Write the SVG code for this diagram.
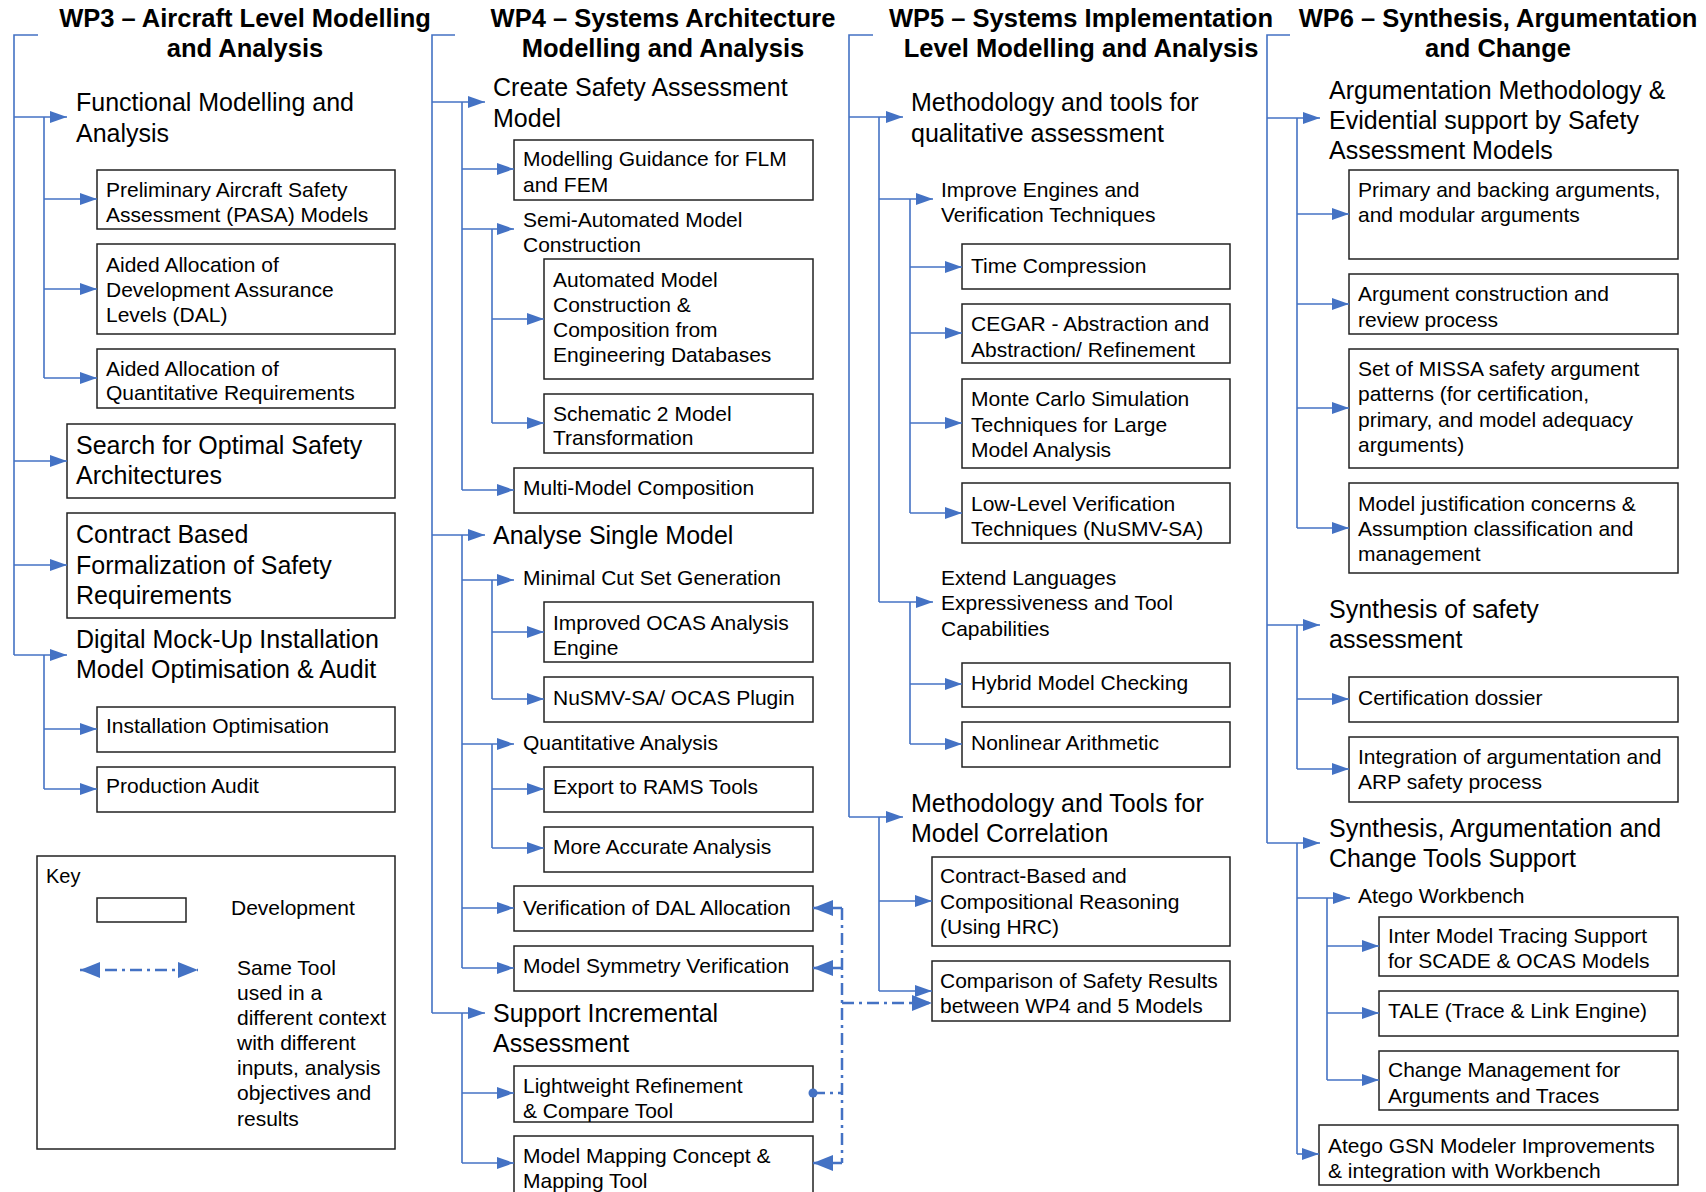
<svg xmlns="http://www.w3.org/2000/svg" width="1706" height="1192" viewBox="0 0 1706 1192">
<style>
text{font-family:"Liberation Sans",Arial,sans-serif;fill:#000}
.ti{font-size:25.5px;font-weight:bold;text-anchor:middle}
.h{font-size:25px}
.s{font-size:21px}
.box{fill:#fff;stroke:#222;stroke-width:1.5}
.ln{fill:none;stroke:#4472C4;stroke-width:1.6}
.ar{fill:none;stroke:#4472C4;stroke-width:1.6;marker-end:url(#a)}
.dd{fill:none;stroke:#4472C4;stroke-width:2.5;stroke-dasharray:12,5,3,5}
.dda{fill:none;stroke:#4472C4;stroke-width:2.5;stroke-dasharray:12,5,3,5;marker-end:url(#b)}
</style>
<defs>
<marker id="a" viewBox="0 0 17 12" markerWidth="17" markerHeight="12" refX="17" refY="6" orient="auto" markerUnits="userSpaceOnUse"><path d="M0,0L17,6L0,12z" fill="#4472C4"/></marker>
<marker id="b" viewBox="0 0 20 16" markerWidth="20" markerHeight="16" refX="20" refY="8" orient="auto-start-reverse" markerUnits="userSpaceOnUse"><path d="M0,0L20,8L0,16z" fill="#4472C4"/></marker>
</defs>
<rect width="1706" height="1192" fill="#fff"/>

<g id="titles">
<text class="ti" x="245" y="27">WP3 – Aircraft Level Modelling</text>
<text class="ti" x="245" y="57">and Analysis</text>
<text class="ti" x="663" y="27">WP4 – Systems Architecture</text>
<text class="ti" x="663" y="57">Modelling and Analysis</text>
<text class="ti" x="1081" y="27">WP5 – Systems Implementation</text>
<text class="ti" x="1081" y="57">Level Modelling and Analysis</text>
<text class="ti" x="1498" y="27">WP6 – Synthesis, Argumentation</text>
<text class="ti" x="1498" y="57">and Change</text>
</g>

<!-- WP3 nodes -->
<g id="wp3-fma"><text class="h" x="76" y="111">Functional Modelling and</text><text class="h" x="76" y="142">Analysis</text></g>
<g id="wp3-pasa"><rect class="box" x="97" y="170" width="298" height="59"/><text class="s" x="106" y="197">Preliminary Aircraft Safety</text><text class="s" x="106" y="222">Assessment (PASA) Models</text></g>
<g id="wp3-dal"><rect class="box" x="97" y="244" width="298" height="90"/><text class="s" x="106" y="272">Aided Allocation of</text><text class="s" x="106" y="297">Development Assurance</text><text class="s" x="106" y="322">Levels (DAL)</text></g>
<g id="wp3-qr"><rect class="box" x="97" y="349" width="298" height="59"/><text class="s" x="106" y="376">Aided Allocation of</text><text class="s" x="106" y="400">Quantitative Requirements</text></g>
<g id="wp3-sosa"><rect class="box" x="67" y="424" width="328" height="74"/><text class="h" x="76" y="454">Search for Optimal Safety</text><text class="h" x="76" y="484">Architectures</text></g>
<g id="wp3-cbf"><rect class="box" x="67" y="513" width="328" height="105"/><text class="h" x="76" y="543">Contract Based</text><text class="h" x="76" y="574">Formalization of Safety</text><text class="h" x="76" y="604">Requirements</text></g>
<g id="wp3-dmu"><text class="h" x="76" y="648">Digital Mock-Up Installation</text><text class="h" x="76" y="678">Model Optimisation &amp; Audit</text></g>
<g id="wp3-io"><rect class="box" x="97" y="707" width="298" height="45"/><text class="s" x="106" y="733">Installation Optimisation</text></g>
<g id="wp3-pa"><rect class="box" x="97" y="767" width="298" height="45"/><text class="s" x="106" y="793">Production Audit</text></g>

<g id="key">
<rect class="box" x="37" y="856" width="358" height="293"/>
<text class="s" x="46" y="883" style="font-size:20px">Key</text>
<rect class="box" x="97" y="898" width="89" height="24"/>
<text class="s" x="231" y="915">Development</text>
<path class="dda" d="M80,970H198" style="marker-start:url(#b)"/>
<text class="s" x="237" y="975">Same Tool</text>
<text class="s" x="237" y="1000">used in a</text>
<text class="s" x="237" y="1025">different context</text>
<text class="s" x="237" y="1050">with different</text>
<text class="s" x="237" y="1075">inputs, analysis</text>
<text class="s" x="237" y="1100">objectives and</text>
<text class="s" x="237" y="1126">results</text>
</g>

<!-- WP4 nodes -->
<g id="wp4-csam"><text class="h" x="493" y="96">Create Safety Assessment</text><text class="h" x="493" y="127">Model</text></g>
<g id="wp4-mg"><rect class="box" x="514" y="140" width="299" height="60"/><text class="s" x="523" y="166">Modelling Guidance for FLM</text><text class="s" x="523" y="192">and FEM</text></g>
<g id="wp4-semi"><text class="s" x="523" y="227">Semi-Automated Model</text><text class="s" x="523" y="252">Construction</text></g>
<g id="wp4-amc"><rect class="box" x="544" y="259" width="269" height="120"/><text class="s" x="553" y="287">Automated Model</text><text class="s" x="553" y="312">Construction &amp;</text><text class="s" x="553" y="337">Composition from</text><text class="s" x="553" y="362">Engineering Databases</text></g>
<g id="wp4-s2m"><rect class="box" x="544" y="394" width="269" height="59"/><text class="s" x="553" y="421">Schematic 2 Model</text><text class="s" x="553" y="445">Transformation</text></g>
<g id="wp4-mmc"><rect class="box" x="514" y="468" width="299" height="45"/><text class="s" x="523" y="495">Multi-Model Composition</text></g>
<g id="wp4-asm"><text class="h" x="493" y="544">Analyse Single Model</text></g>
<g id="wp4-mcs"><text class="s" x="523" y="585">Minimal Cut Set Generation</text></g>
<g id="wp4-ocas"><rect class="box" x="544" y="602" width="269" height="60"/><text class="s" x="553" y="630">Improved OCAS Analysis</text><text class="s" x="553" y="655">Engine</text></g>
<g id="wp4-nusmv"><rect class="box" x="544" y="677" width="269" height="45"/><text class="s" x="553" y="705">NuSMV-SA/ OCAS Plugin</text></g>
<g id="wp4-qa"><text class="s" x="523" y="750">Quantitative Analysis</text></g>
<g id="wp4-rams"><rect class="box" x="544" y="767" width="269" height="45"/><text class="s" x="553" y="794">Export to RAMS Tools</text></g>
<g id="wp4-maa"><rect class="box" x="544" y="827" width="269" height="45"/><text class="s" x="553" y="854">More Accurate Analysis</text></g>
<g id="wp4-vdal"><rect class="box" x="514" y="886" width="299" height="45"/><text class="s" x="523" y="915">Verification of DAL Allocation</text></g>
<g id="wp4-msv"><rect class="box" x="514" y="946" width="299" height="45"/><text class="s" x="523" y="973">Model Symmetry Verification</text></g>
<g id="wp4-sia"><text class="h" x="493" y="1022">Support Incremental</text><text class="h" x="493" y="1052">Assessment</text></g>
<g id="wp4-lrc"><rect class="box" x="514" y="1066" width="299" height="56"/><text class="s" x="523" y="1093">Lightweight Refinement</text><text class="s" x="523" y="1118">&amp; Compare Tool</text></g>
<g id="wp4-mmap"><rect class="box" x="514" y="1136" width="299" height="62"/><text class="s" x="523" y="1163">Model Mapping Concept &amp;</text><text class="s" x="523" y="1188">Mapping Tool</text></g>

<!-- WP5 nodes -->
<g id="wp5-mtq"><text class="h" x="911" y="111">Methodology and tools for</text><text class="h" x="911" y="142">qualitative assessment</text></g>
<g id="wp5-iev"><text class="s" x="941" y="197">Improve Engines and</text><text class="s" x="941" y="222">Verification Techniques</text></g>
<g id="wp5-tc"><rect class="box" x="962" y="244" width="268" height="45"/><text class="s" x="971" y="273">Time Compression</text></g>
<g id="wp5-cegar"><rect class="box" x="962" y="304" width="268" height="59"/><text class="s" x="971" y="331">CEGAR - Abstraction and</text><text class="s" x="971" y="357">Abstraction/ Refinement</text></g>
<g id="wp5-mc"><rect class="box" x="962" y="379" width="268" height="89"/><text class="s" x="971" y="406">Monte Carlo Simulation</text><text class="s" x="971" y="432">Techniques for Large</text><text class="s" x="971" y="457">Model Analysis</text></g>
<g id="wp5-llv"><rect class="box" x="962" y="483" width="268" height="60"/><text class="s" x="971" y="511">Low-Level Verification</text><text class="s" x="971" y="536">Techniques (NuSMV-SA)</text></g>
<g id="wp5-ext"><text class="s" x="941" y="585">Extend Languages</text><text class="s" x="941" y="610">Expressiveness and Tool</text><text class="s" x="941" y="636">Capabilities</text></g>
<g id="wp5-hmc"><rect class="box" x="962" y="663" width="268" height="44"/><text class="s" x="971" y="690">Hybrid Model Checking</text></g>
<g id="wp5-nla"><rect class="box" x="962" y="722" width="268" height="45"/><text class="s" x="971" y="750">Nonlinear Arithmetic</text></g>
<g id="wp5-mtmc"><text class="h" x="911" y="812">Methodology and Tools for</text><text class="h" x="911" y="842">Model Correlation</text></g>
<g id="wp5-cbc"><rect class="box" x="932" y="857" width="298" height="89"/><text class="s" x="940" y="883">Contract-Based and</text><text class="s" x="940" y="909">Compositional Reasoning</text><text class="s" x="940" y="934">(Using HRC)</text></g>
<g id="wp5-cmp"><rect class="box" x="932" y="961" width="298" height="60"/><text class="s" x="940" y="988">Comparison of Safety Results</text><text class="s" x="940" y="1013">between WP4 and 5 Models</text></g>

<!-- WP6 nodes -->
<g id="wp6-am"><text class="h" x="1329" y="99">Argumentation Methodology &amp;</text><text class="h" x="1329" y="129">Evidential support by Safety</text><text class="h" x="1329" y="159">Assessment Models</text></g>
<g id="wp6-pb"><rect class="box" x="1349" y="170" width="329" height="89"/><text class="s" x="1358" y="197">Primary and backing arguments,</text><text class="s" x="1358" y="222">and modular arguments</text></g>
<g id="wp6-acr"><rect class="box" x="1349" y="274" width="329" height="60"/><text class="s" x="1358" y="301">Argument construction and</text><text class="s" x="1358" y="327">review process</text></g>
<g id="wp6-missa"><rect class="box" x="1349" y="349" width="329" height="119"/><text class="s" x="1358" y="376">Set of MISSA safety argument</text><text class="s" x="1358" y="401">patterns (for certification,</text><text class="s" x="1358" y="427">primary, and model adequacy</text><text class="s" x="1358" y="452">arguments)</text></g>
<g id="wp6-mj"><rect class="box" x="1349" y="483" width="329" height="90"/><text class="s" x="1358" y="511">Model justification concerns &amp;</text><text class="s" x="1358" y="536">Assumption classification and</text><text class="s" x="1358" y="561">management</text></g>
<g id="wp6-ssa"><text class="h" x="1329" y="618">Synthesis of safety</text><text class="h" x="1329" y="648">assessment</text></g>
<g id="wp6-cd"><rect class="box" x="1349" y="677" width="329" height="45"/><text class="s" x="1358" y="705">Certification dossier</text></g>
<g id="wp6-iarp"><rect class="box" x="1349" y="737" width="329" height="65"/><text class="s" x="1358" y="764">Integration of argumentation and</text><text class="s" x="1358" y="789">ARP safety process</text></g>
<g id="wp6-sacts"><text class="h" x="1329" y="837">Synthesis, Argumentation and</text><text class="h" x="1329" y="867">Change Tools Support</text></g>
<g id="wp6-aw"><text class="s" x="1358" y="903">Atego Workbench</text></g>
<g id="wp6-imt"><rect class="box" x="1379" y="917" width="299" height="59"/><text class="s" x="1388" y="943">Inter Model Tracing Support</text><text class="s" x="1388" y="968">for SCADE &amp; OCAS Models</text></g>
<g id="wp6-tale"><rect class="box" x="1379" y="991" width="299" height="45"/><text class="s" x="1388" y="1018">TALE (Trace &amp; Link Engine)</text></g>
<g id="wp6-cm"><rect class="box" x="1379" y="1051" width="299" height="59"/><text class="s" x="1388" y="1077">Change Management for</text><text class="s" x="1388" y="1103">Arguments and Traces</text></g>
<g id="wp6-gsn"><rect class="box" x="1319" y="1125" width="359" height="60"/><text class="s" x="1328" y="1153">Atego GSN Modeler Improvements</text><text class="s" x="1328" y="1178">&amp; integration with Workbench</text></g>

<g id="connectors">
<!-- WP3 -->
<path class="ln" d="M38,35H14V655"/>
<path class="ar" d="M14,117H67"/><path class="ar" d="M14,461H67"/><path class="ar" d="M14,565H67"/><path class="ar" d="M14,655H67"/>
<path class="ln" d="M44,117V378"/>
<path class="ar" d="M44,199H97"/><path class="ar" d="M44,289H97"/><path class="ar" d="M44,378H97"/>
<path class="ln" d="M44,655V789"/>
<path class="ar" d="M44,729H97"/><path class="ar" d="M44,789H97"/>
<!-- WP4 -->
<path class="ln" d="M455,35H432V1013"/>
<path class="ar" d="M432,102H485"/><path class="ar" d="M432,535H485"/><path class="ar" d="M432,1013H485"/>
<path class="ln" d="M462,102V490"/>
<path class="ar" d="M462,169H514"/><path class="ar" d="M462,229H514"/><path class="ar" d="M462,490H514"/>
<path class="ln" d="M492,229V423"/>
<path class="ar" d="M492,319H544"/><path class="ar" d="M492,423H544"/>
<path class="ln" d="M462,535V968"/>
<path class="ar" d="M462,580H514"/><path class="ar" d="M462,744H514"/><path class="ar" d="M462,908H514"/><path class="ar" d="M462,968H514"/>
<path class="ln" d="M492,580V699"/>
<path class="ar" d="M492,632H544"/><path class="ar" d="M492,699H544"/>
<path class="ln" d="M492,744V848"/>
<path class="ar" d="M492,789H544"/><path class="ar" d="M492,848H544"/>
<path class="ln" d="M462,1013V1163"/>
<path class="ar" d="M462,1093H514"/><path class="ar" d="M462,1163H514"/>
<!-- WP5 -->
<path class="ln" d="M873,35H849V817"/>
<path class="ar" d="M849,117H903"/><path class="ar" d="M849,817H903"/>
<path class="ln" d="M879,117V602"/>
<path class="ar" d="M879,199H933"/><path class="ar" d="M879,602H933"/>
<path class="ln" d="M910,199V513"/>
<path class="ar" d="M910,267H962"/><path class="ar" d="M910,333H962"/><path class="ar" d="M910,423H962"/><path class="ar" d="M910,513H962"/>
<path class="ln" d="M910,602V744"/>
<path class="ar" d="M910,684H962"/><path class="ar" d="M910,744H962"/>
<path class="ln" d="M879,817V991"/>
<path class="ar" d="M879,901H932"/><path class="ar" d="M879,991H932"/>
<!-- WP6 -->
<path class="ln" d="M1290,35H1267V843"/>
<path class="ar" d="M1267,118H1320"/><path class="ar" d="M1267,625H1320"/><path class="ar" d="M1267,843H1320"/>
<path class="ln" d="M1297,118V528"/>
<path class="ar" d="M1297,214H1349"/><path class="ar" d="M1297,304H1349"/><path class="ar" d="M1297,408H1349"/><path class="ar" d="M1297,528H1349"/>
<path class="ln" d="M1297,625V769"/>
<path class="ar" d="M1297,699H1349"/><path class="ar" d="M1297,769H1349"/>
<path class="ln" d="M1297,843V1154"/>
<path class="ar" d="M1297,898H1350"/><path class="ar" d="M1297,1154H1319"/>
<path class="ln" d="M1327,898V1080"/>
<path class="ar" d="M1327,946H1379"/><path class="ar" d="M1327,1013H1379"/><path class="ar" d="M1327,1080H1379"/>
<!-- same tool (dash-dot) -->
<path class="dd" d="M842,908V1163"/>
<path class="dda" d="M842,908H813"/>
<path class="dda" d="M842,968H813"/>
<path class="dda" d="M842,1163H813"/>
<path class="dd" d="M813,1093H842"/>
<circle cx="813" cy="1093" r="4.5" fill="#4472C4"/>
<path class="dda" d="M842,1003H932"/>
</g>
</svg>
